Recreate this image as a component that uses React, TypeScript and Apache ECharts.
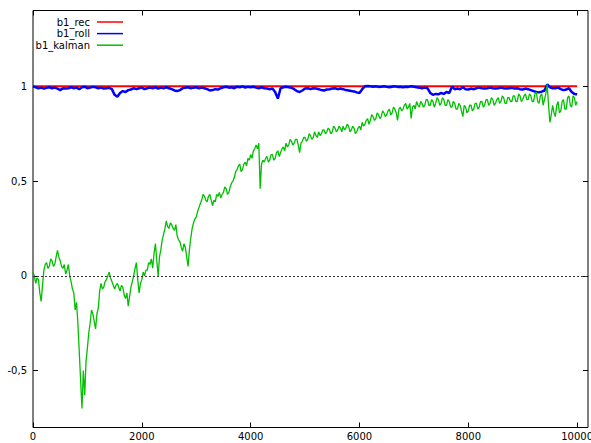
import { useEffect, useRef } from "react";
import * as echarts from "echarts";

// Sample spacing (iterations) of the stored coefficient series
const ROLL_STEP = 50;
const KALMAN_STEP = 25;

// Recursive estimate: flat at 1 over the whole run
const recX = [0, 10000];
const recY = [1, 1];

// Rolling-window estimate, one value every ROLL_STEP iterations (0..10000)
const rollValues = [
  1.0, 0.995, 0.99, 0.993, 0.988, 0.992, 0.995, 0.99, 0.993, 0.988,
  0.98, 0.99, 0.988, 0.99, 0.995, 0.99, 0.993, 0.985, 0.995, 0.998,
  0.99, 0.993, 0.997, 0.995, 0.99, 0.993, 0.988, 0.99, 0.992, 0.985,
  0.955, 0.945, 0.965, 0.975, 0.97, 0.98, 0.983, 0.99, 0.985, 0.99,
  0.993, 0.985, 0.99, 0.993, 0.99, 0.995, 0.988, 0.993, 0.99, 0.995,
  0.99, 0.985, 0.978, 0.975, 0.98, 0.99, 0.993, 0.995, 0.99, 0.993,
  0.995, 0.99, 0.993, 0.99, 0.985, 0.978, 0.98, 0.985, 0.983, 0.99,
  0.995, 0.998, 0.993, 0.995, 0.99, 0.998, 0.995, 1.0, 0.993, 0.997,
  0.995, 0.998, 0.993, 0.99, 0.995, 0.99, 0.988, 0.985, 0.988, 0.97,
  0.935, 0.99, 0.995, 0.998, 0.995, 0.993, 0.985, 0.975, 0.97, 0.978,
  0.988, 0.99, 0.985, 0.99, 0.988, 0.985, 0.98, 0.978, 0.983, 0.985,
  0.988, 0.99, 0.985, 0.988, 0.985, 0.98, 0.978, 0.975, 0.973, 0.968,
  0.965, 0.985, 1.0, 1.002, 1.0, 0.998, 1.0, 0.997, 0.998, 1.0,
  0.997, 0.995, 0.998, 1.0, 0.997, 0.998, 0.995, 0.998, 0.997, 1.0,
  0.998, 0.995, 0.993, 0.99, 0.993, 0.99, 0.965, 0.955, 0.96, 0.958,
  0.965, 0.96, 0.97, 0.965, 0.998, 0.985, 0.988, 0.985, 0.995, 0.985,
  0.983, 0.988, 0.985, 0.99, 0.993, 0.99, 0.988, 0.99, 0.993, 0.99,
  0.988, 0.99, 0.993, 0.99, 0.988, 0.99, 0.992, 0.988, 0.99, 0.985,
  0.983, 0.988, 0.985, 0.98, 0.975, 0.97, 0.968, 0.972, 0.978, 1.01,
  0.995, 0.99, 0.99, 0.993, 0.985, 0.98, 0.983, 0.99, 0.97, 0.96,
  0.958,
];

// Kalman-filter estimate, one value every KALMAN_STEP iterations (0..10000)
const kalmanValues = [
  0.02, 0.0, -0.04, -0.01, -0.02, -0.09, -0.135, -0.05, 0.03, 0.06, 0.07, 0.04, 0.05, 0.09, 0.08, 0.05, 0.06, 0.1, 0.135, 0.1,
  0.08, 0.05, 0.04, 0.06, 0.01, 0.03, 0.06, 0.0, -0.03, -0.07, -0.09, -0.18, -0.14, -0.25, -0.4, -0.55, -0.7, -0.5, -0.63, -0.45,
  -0.38, -0.3, -0.25, -0.18, -0.2, -0.24, -0.28, -0.2, -0.17, -0.08, -0.04, -0.07, -0.06, -0.03, -0.02, 0.0, 0.02, -0.01, -0.03, -0.05,
  -0.07, -0.05, -0.04, -0.06, -0.08, -0.05, -0.06, -0.1, -0.12, -0.09, -0.16, -0.11, -0.06, -0.03, 0.0, 0.04, 0.07, -0.02, -0.09, -0.04,
  -0.02, 0.02, 0.0, 0.03, 0.03, 0.07, 0.06, 0.09, 0.04, 0.12, 0.17, 0.08, 0.0, 0.1, 0.14, 0.19, 0.22, 0.25, 0.29, 0.26,
  0.25, 0.28, 0.27, 0.25, 0.24, 0.27, 0.21, 0.19, 0.18, 0.15, 0.13, 0.17, 0.15, 0.1, 0.05, 0.14, 0.2, 0.25, 0.28, 0.3,
  0.31, 0.34, 0.36, 0.38, 0.4, 0.43, 0.42, 0.4, 0.39, 0.42, 0.43, 0.4, 0.37, 0.4, 0.39, 0.43, 0.42, 0.44, 0.41, 0.43,
  0.44, 0.47, 0.46, 0.43, 0.44, 0.47, 0.49, 0.5, 0.52, 0.55, 0.56, 0.58, 0.59, 0.55, 0.56, 0.59, 0.6, 0.58, 0.62, 0.61,
  0.64, 0.62, 0.66, 0.67, 0.69, 0.67, 0.7, 0.46, 0.59, 0.61, 0.6, 0.62, 0.63, 0.6, 0.61, 0.64, 0.64, 0.61, 0.62, 0.65,
  0.66, 0.63, 0.65, 0.67, 0.68, 0.66, 0.7, 0.68, 0.69, 0.72, 0.71, 0.69, 0.7, 0.72, 0.72, 0.69, 0.65, 0.7, 0.71, 0.73,
  0.73, 0.71, 0.72, 0.75, 0.74, 0.72, 0.73, 0.76, 0.74, 0.73, 0.76, 0.74, 0.75, 0.77, 0.77, 0.75, 0.76, 0.78, 0.77, 0.75,
  0.76, 0.79, 0.78, 0.76, 0.77, 0.79, 0.78, 0.76, 0.79, 0.77, 0.78, 0.8, 0.79, 0.76, 0.77, 0.79, 0.78, 0.75, 0.76, 0.78,
  0.79, 0.77, 0.81, 0.79, 0.8, 0.82, 0.83, 0.8, 0.82, 0.85, 0.84, 0.82, 0.83, 0.86, 0.85, 0.83, 0.84, 0.87, 0.86, 0.84,
  0.85, 0.87, 0.88, 0.85, 0.86, 0.89, 0.88, 0.86, 0.82, 0.88, 0.89, 0.87, 0.88, 0.9, 0.91, 0.88, 0.89, 0.91, 0.83, 0.89,
  0.9, 0.88, 0.92, 0.9, 0.89, 0.92, 0.91, 0.89, 0.9, 0.93, 0.93, 0.9, 0.9, 0.93, 0.92, 0.89, 0.91, 0.94, 0.93, 0.9,
  0.91, 0.94, 0.93, 0.9, 0.9, 0.93, 0.92, 0.89, 0.89, 0.92, 0.91, 0.88, 0.88, 0.91, 0.9, 0.87, 0.84, 0.9, 0.89, 0.86,
  0.87, 0.9, 0.9, 0.87, 0.88, 0.91, 0.91, 0.88, 0.89, 0.92, 0.92, 0.89, 0.9, 0.93, 0.93, 0.9, 0.91, 0.94, 0.93, 0.9,
  0.91, 0.93, 0.94, 0.91, 0.92, 0.95, 0.94, 0.91, 0.91, 0.94, 0.94, 0.92, 0.92, 0.95, 0.95, 0.92, 0.92, 0.96, 0.95, 0.92,
  0.93, 0.95, 0.96, 0.93, 0.93, 0.96, 0.95, 0.92, 0.92, 0.96, 0.97, 0.92, 0.91, 0.95, 0.96, 0.9, 0.93, 0.96, 1.01, 0.9,
  0.81, 0.85, 0.9, 0.86, 0.84, 0.9, 0.92, 0.86, 0.87, 0.92, 0.93, 0.88, 0.88, 0.94, 0.95, 0.9, 0.89, 0.95, 0.94, 0.9,
  0.92,
];

const xTicks = [0, 2000, 4000, 6000, 8000, 10000];
const yTicks = [-0.5, 0, 0.5, 1];
const legendNames = ["b1_rec", "b1_roll", "b1_kalman"];
const seriesColors = ["#ff0000", "#0000ff", "#00c000"];

const FONT = "DejaVu Sans";

const toPairs = (vals: number[], step: number) => vals.map((v, i) => [i * step, v]);

export default function App() {
  const ref = useRef<HTMLDivElement>(null);

  useEffect(() => {
    if (!ref.current) return;
    const chart = echarts.init(ref.current, undefined, { renderer: "svg" });

    const tickStyle = { inside: true, length: 5, lineStyle: { color: "#000", width: 1 } };
    const hiddenLine = { show: false, onZero: false };

    const legendItems = legendNames.flatMap((name, i) => {
      const yy = 22 + i * 11.6;
      return [
        {
          type: "text",
          x: 90,
          y: yy,
          style: {
            text: name,
            align: "right",
            verticalAlign: "middle",
            font: `10px "${FONT}"`,
            fill: "#000",
          },
        },
        {
          type: "line",
          shape: { x1: 97, y1: yy, x2: 123, y2: yy },
          style: { stroke: seriesColors[i], lineWidth: 1.5 },
        },
      ];
    });

    chart.setOption({
      animation: false,
      backgroundColor: "#fff",
      grid: {
        left: 33,
        right: 3,
        top: 10.5,
        bottom: 15.5,
        outerBoundsMode: "none",
        containLabel: false,
        show: true,
        borderColor: "#000",
        borderWidth: 1,
      },
      xAxis: [
        {
          type: "value",
          min: 0,
          max: 10200,
          position: "bottom",
          axisLine: hiddenLine,
          splitLine: { show: false },
          axisTick: { ...tickStyle, customValues: xTicks },
          axisLabel: {
            customValues: xTicks,
            margin: 4,
            color: "#000",
            fontFamily: FONT,
            fontSize: 10,
            formatter: (v: number) => String(v),
          },
        },
        {
          type: "value",
          min: 0,
          max: 10200,
          position: "top",
          axisLine: hiddenLine,
          splitLine: { show: false },
          axisTick: { ...tickStyle, customValues: xTicks },
          axisLabel: { show: false },
        },
      ],
      yAxis: [
        {
          type: "value",
          min: -0.8,
          max: 1.4,
          position: "left",
          axisLine: hiddenLine,
          splitLine: { show: false },
          axisTick: { ...tickStyle, customValues: yTicks },
          axisLabel: {
            customValues: yTicks,
            margin: 6,
            color: "#000",
            fontFamily: FONT,
            fontSize: 10,
            formatter: (v: number) => String(v).replace(".", ","),
          },
        },
        {
          type: "value",
          min: -0.8,
          max: 1.4,
          position: "right",
          axisLine: hiddenLine,
          splitLine: { show: false },
          axisTick: { ...tickStyle, customValues: yTicks },
          axisLabel: { show: false },
        },
      ],
      series: [
        {
          name: legendNames[0],
          type: "line",
          data: recX.map((x, i) => [x, recY[i]]),
          showSymbol: false,
          silent: true,
          lineStyle: { color: seriesColors[0], width: 2 },
          markLine: {
            silent: true,
            symbol: "none",
            label: { show: false },
            lineStyle: { color: "#333", width: 1, type: [2, 2] },
            data: [{ yAxis: 0 }],
          },
        },
        {
          name: legendNames[1],
          type: "line",
          data: toPairs(rollValues, ROLL_STEP),
          showSymbol: false,
          silent: true,
          lineStyle: { color: seriesColors[1], width: 2.5 },
        },
        {
          name: legendNames[2],
          type: "line",
          data: toPairs(kalmanValues, KALMAN_STEP),
          showSymbol: false,
          silent: true,
          lineStyle: { color: seriesColors[2], width: 1.3 },
        },
      ],
      graphic: legendItems,
    });

    return () => chart.dispose();
  }, []);

  return (
    <div
      ref={ref}
      style={{ position: "fixed", left: 0, top: 0, width: 591, height: 443 }}
    />
  );
}
